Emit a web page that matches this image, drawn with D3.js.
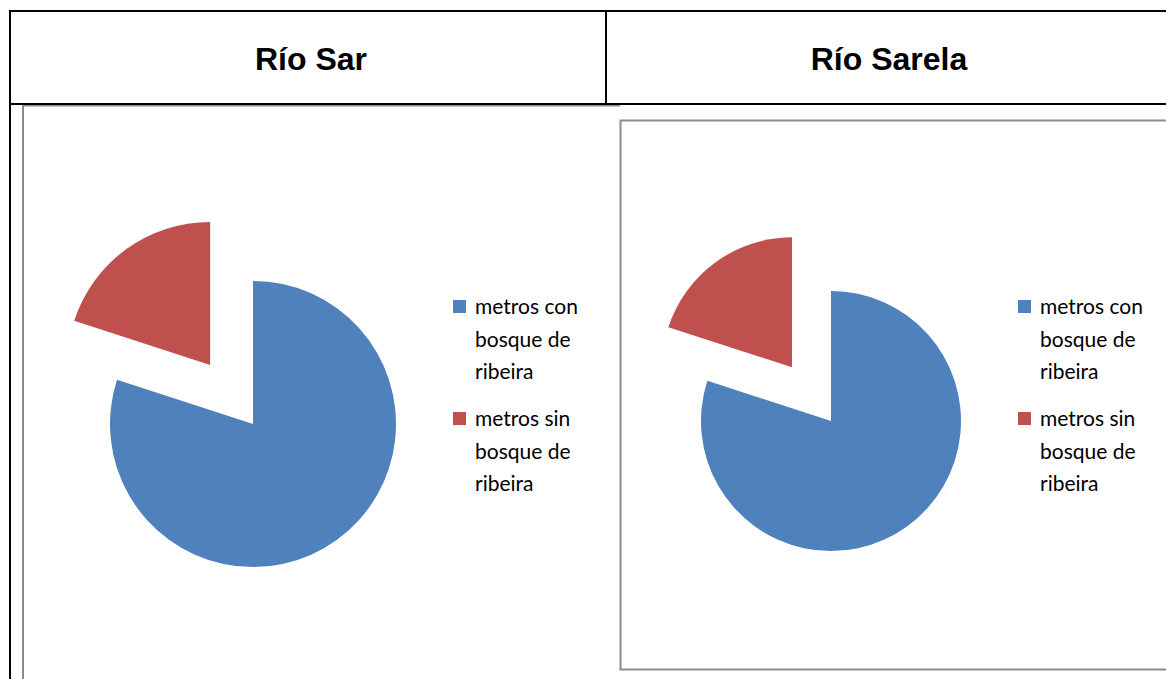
<!DOCTYPE html>
<html lang="es">
<head>
  <meta charset="UTF-8">
  <title>Río Sar / Río Sarela</title>
  <style>
    * {
      margin: 0;
      padding: 0;
    }
    body {
      background: #fff;
    }
  </style>
</head>
<body>
  <script src="https://d3js.org/d3.v7.min.js"></script>
  <script>
    const width = 1166;
    const height = 679;

    // data (share of river length, %)
    const rivers = ['Río Sar', 'Río Sarela'];
    const categories = ['metros con bosque de ribeira', 'metros sin bosque de ribeira'];
    const legendLines = [['metros con', 'bosque de', 'ribeira'], ['metros sin', 'bosque de', 'ribeira']];
    const sarValues = [80, 20];
    const sarelaValues = [80, 20];
    const colors = ['#4F81BD', '#C0504D'];

    const panels = [
      { title: rivers[0], values: sarValues, cx: 253, cy: 424, r: 143, legendX: 453, headX: 311,
        box: { x: 23, y: 105.5, w: 597, h: 600 } },
      { title: rivers[1], values: sarelaValues, cx: 831, cy: 421, r: 130, legendX: 1018, headX: 889,
        box: { x: 620.5, y: 120.5, w: 600, h: 549 } },
    ];

    const svg = d3.select('body')
      .append('svg')
      .attr('width', width)
      .attr('height', height)

    const color = d3.scaleOrdinal()
      .domain(categories)
      .range(colors)

    const pie = d3.pie()
      .sort(null)
      .value(d => d.value)

    // chart frames (the left one's right edge sits under the right frame)
    panels.forEach((p, i) => {
      const b = p.box
      const path = d3.path()
      path.moveTo(b.x + b.w, b.y)
      path.lineTo(b.x, b.y)
      path.lineTo(b.x, b.y + b.h)
      path.lineTo(b.x + b.w, b.y + b.h)
      if (i > 0) path.closePath()
      svg.append('path')
        .attr('d', path.toString())
        .attr('fill', 'none')
        .attr('stroke', '#8c8c8c')
        .attr('stroke-width', 2)
    })

    // table
    const table = svg.append('g')
      .attr('stroke', '#000')
      .attr('stroke-width', 2)
    table.append('line').attr('x1', 9).attr('x2', width).attr('y1', 11).attr('y2', 11)
    table.append('line').attr('x1', 9).attr('x2', width).attr('y1', 104).attr('y2', 104)
    table.append('line').attr('x1', 10).attr('x2', 10).attr('y1', 10).attr('y2', height)
    table.append('line').attr('x1', 606).attr('x2', 606).attr('y1', 10).attr('y2', 104)

    panels.forEach(p => {
      svg.append('text')
        .attr('x', p.headX)
        .attr('y', 59)
        .attr('text-anchor', 'middle')
        .attr('dominant-baseline', 'central')
        .attr('font-family', 'Liberation Sans, Arial, sans-serif')
        .attr('font-weight', 'bold')
        .attr('font-size', 32)
        .text(p.title)

      const data = categories.map((c, i) => ({ name: c, value: p.values[i] }))
      const arcs = pie(data)
      const arc = d3.arc().innerRadius(0).outerRadius(p.r)
      const explode = p.r * 0.51

      const g = svg.append('g')
        .attr('transform', `translate(${p.cx}, ${p.cy})`)

      g.selectAll('path')
        .data(arcs)
        .enter()
        .append('path')
        .attr('d', arc)
        .attr('fill', d => color(d.data.name))
        .attr('transform', (d, i) => {
          if (i === 0) return null
          const mid = (d.startAngle + d.endAngle) / 2
          return `translate(${Math.sin(mid) * explode}, ${-Math.cos(mid) * explode})`
        })

      const legend = svg.append('g')
        .attr('transform', `translate(${p.legendX}, 0)`)

      categories.forEach((c, i) => {
        const top = 300 + i * 112
        legend.append('rect')
          .attr('x', 0)
          .attr('y', top)
          .attr('width', 13)
          .attr('height', 13)
          .attr('fill', color(c))
        legend.append('text')
          .attr('x', 22)
          .attr('font-family', 'Lato, Carlito, Calibri, sans-serif')
          .attr('font-size', 21)
          .attr('fill', '#000')
          .selectAll('tspan')
          .data(legendLines[i])
          .enter()
          .append('tspan')
          .attr('x', 22)
          .attr('y', (d, j) => top + 14 + j * 32.5)
          .text(d => d)
      })
    })
  </script>
</body>
</html>
